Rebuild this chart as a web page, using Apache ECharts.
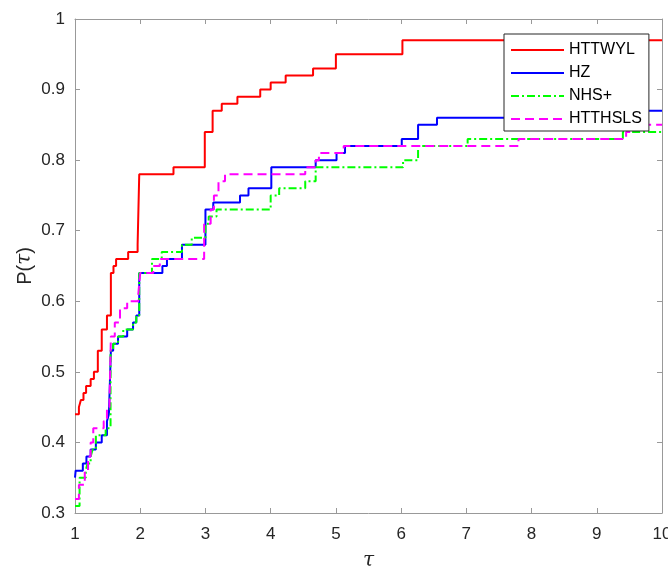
<!DOCTYPE html>
<html><head><meta charset="utf-8">
<script src="https://cdn.jsdelivr.net/npm/echarts@6/dist/echarts.min.js"></script>
<style>html,body{margin:0;padding:0;background:#fff}#c{width:668px;height:568px}</style>
</head><body><div id="c"></div>
<script>
const seriesNames = ['HTTWYL', 'HZ', 'NHS+', 'HTTHSLS'];

const tauHTTWYL = [1, 1.06, 1.09, 1.13, 1.17, 1.24, 1.29, 1.35, 1.41, 1.49, 1.55, 1.59, 1.63, 1.815, 1.96, 1.985, 2.51, 2.99, 3.11, 3.25, 3.49, 3.84, 4.0, 4.23, 4.65, 5.0, 6.02, 10];
const pHTTWYL   = [0.44, 0.45, 0.46, 0.47, 0.48, 0.49, 0.50, 0.53, 0.56, 0.58, 0.64, 0.65, 0.66, 0.67, 0.68, 0.78, 0.79, 0.84, 0.87, 0.88, 0.89, 0.90, 0.91, 0.92, 0.93, 0.95, 0.97, 0.97];

const tauHZ = [1, 1.01, 1.12, 1.175, 1.24, 1.32, 1.41, 1.49, 1.52, 1.55, 1.585, 1.66, 1.8, 1.89, 1.94, 1.985, 2.34, 2.41, 2.64, 3.0, 3.12, 3.53, 3.66, 4.01, 4.69, 5.01, 5.14, 6.01, 6.26, 6.55, 9.5, 10];
const pHZ   = [0.35, 0.36, 0.37, 0.38, 0.39, 0.40, 0.41, 0.43, 0.44, 0.53, 0.54, 0.55, 0.56, 0.57, 0.58, 0.64, 0.65, 0.66, 0.68, 0.73, 0.74, 0.75, 0.76, 0.79, 0.80, 0.81, 0.82, 0.83, 0.85, 0.86, 0.87, 0.87];

const tauNHS = [1, 1.07, 1.165, 1.19, 1.24, 1.27, 1.32, 1.47, 1.545, 1.585, 1.66, 1.74, 1.89, 1.94, 1.985, 2.18, 2.33, 2.64, 2.79, 3.0, 3.05, 3.17, 4.0, 4.13, 4.53, 4.69, 6.03, 6.26, 7.02, 9.4, 10];
const pNHS   = [0.31, 0.35, 0.36, 0.37, 0.38, 0.39, 0.41, 0.42, 0.53, 0.54, 0.55, 0.56, 0.57, 0.58, 0.64, 0.66, 0.67, 0.68, 0.69, 0.71, 0.72, 0.73, 0.75, 0.76, 0.77, 0.79, 0.80, 0.82, 0.83, 0.84, 0.84];

const tauHTTHSLS = [1, 1.06, 1.15, 1.2, 1.24, 1.28, 1.44, 1.49, 1.53, 1.55, 1.61, 1.69, 1.8, 1.97, 2.0, 2.2, 2.3, 2.98, 3.08, 3.13, 3.2, 3.3, 4.53, 4.69, 4.74, 5.12, 7.8, 9.45, 9.53, 10];
const pHTTHSLS   = [0.32, 0.34, 0.36, 0.38, 0.40, 0.42, 0.43, 0.45, 0.46, 0.55, 0.57, 0.59, 0.60, 0.61, 0.64, 0.65, 0.66, 0.71, 0.73, 0.75, 0.77, 0.78, 0.79, 0.80, 0.81, 0.82, 0.83, 0.84, 0.85, 0.85];

const xTickMin = 1, xTickMax = 10, xTickStep = 1;
const yTickMin = 0.3, yTickMax = 1, yTickStep = 0.1;

function zip(a, b) { return a.map((v, i) => [v, b[i]]); }

const allTau = [tauHTTWYL, tauHZ, tauNHS, tauHTTHSLS];
const allP = [pHTTWYL, pHZ, pNHS, pHTTHSLS];
const colors = ['#ff0000', '#0000ff', '#00ff00', '#ff00ff'];
const dashes = ['solid', 'solid', [8, 3, 2, 3], [9, 5]];

const axisGray = '#999999';
const textColor = '#262626';
const fontFam = 'Liberation Sans, Arial, sans-serif';

const chart = echarts.init(document.getElementById('c'), null, { renderer: 'canvas' });

const xBase = {
  type: 'value', min: xTickMin, max: xTickMax, interval: xTickStep,
  axisLine: { show: true, lineStyle: { color: axisGray, width: 1 } },
  axisTick: { show: true, inside: true, length: 5, lineStyle: { color: axisGray } },
  splitLine: { show: false }
};
const yBase = {
  type: 'value', min: yTickMin, max: yTickMax, interval: yTickStep,
  axisLine: { show: true, lineStyle: { color: axisGray, width: 1 } },
  axisTick: { show: true, inside: true, length: 5, lineStyle: { color: axisGray } },
  splitLine: { show: false }
};

chart.setOption({
  animation: false,
  backgroundColor: '#ffffff',
  grid: { left: 75, right: 6, top: 19, bottom: 55, containLabel: false, outerBoundsMode: 'none' },
  xAxis: [
    Object.assign({}, xBase, {
      position: 'bottom',
      axisLabel: { show: true, margin: 13, fontSize: 17, color: textColor, fontFamily: fontFam },
      name: '\u03c4', nameLocation: 'middle', nameGap: 38,
      nameTextStyle: { fontSize: 20, fontStyle: 'italic', fontFamily: 'DejaVu Serif, serif', color: textColor }
    }),
    Object.assign({}, xBase, { position: 'top', axisLabel: { show: false } })
  ],
  yAxis: [
    Object.assign({}, yBase, {
      position: 'left',
      axisLabel: { show: true, margin: 10, fontSize: 17, color: textColor, fontFamily: fontFam },
      name: '{a|P(}{b|\u03c4}{a|)}', nameLocation: 'middle', nameGap: 40, nameMoveOverlap: false,
      nameTextStyle: {
        color: textColor,
        rich: {
          a: { fontSize: 20, fontFamily: fontFam, color: textColor },
          b: { fontSize: 20, fontFamily: 'DejaVu Serif, serif', fontStyle: 'italic', color: textColor }
        }
      }
    }),
    Object.assign({}, yBase, { position: 'right', axisLabel: { show: false } })
  ],
  legend: {
    orient: 'vertical', left: 504, top: 34,
    backgroundColor: '#ffffff', borderColor: '#262626', borderWidth: 1, borderRadius: 0,
    padding: [6, 7, 2, 6], itemGap: 3, itemWidth: 53, itemHeight: 14,
    itemStyle: { color: 'transparent', borderWidth: 0, opacity: 0 },
    textStyle: { fontSize: 16, fontFamily: fontFam, color: '#000000', lineHeight: 20 },
    data: seriesNames
  },
  series: seriesNames.map((n, i) => ({
    name: n, type: 'line', step: 'end', xAxisIndex: 0, yAxisIndex: 0,
    symbol: 'none', showSymbol: false,
    data: zip(allTau[i], allP[i]),
    lineStyle: { color: colors[i], width: 2, type: dashes[i] },
    itemStyle: { color: colors[i] }
  }))
});
</script>
</body></html>
